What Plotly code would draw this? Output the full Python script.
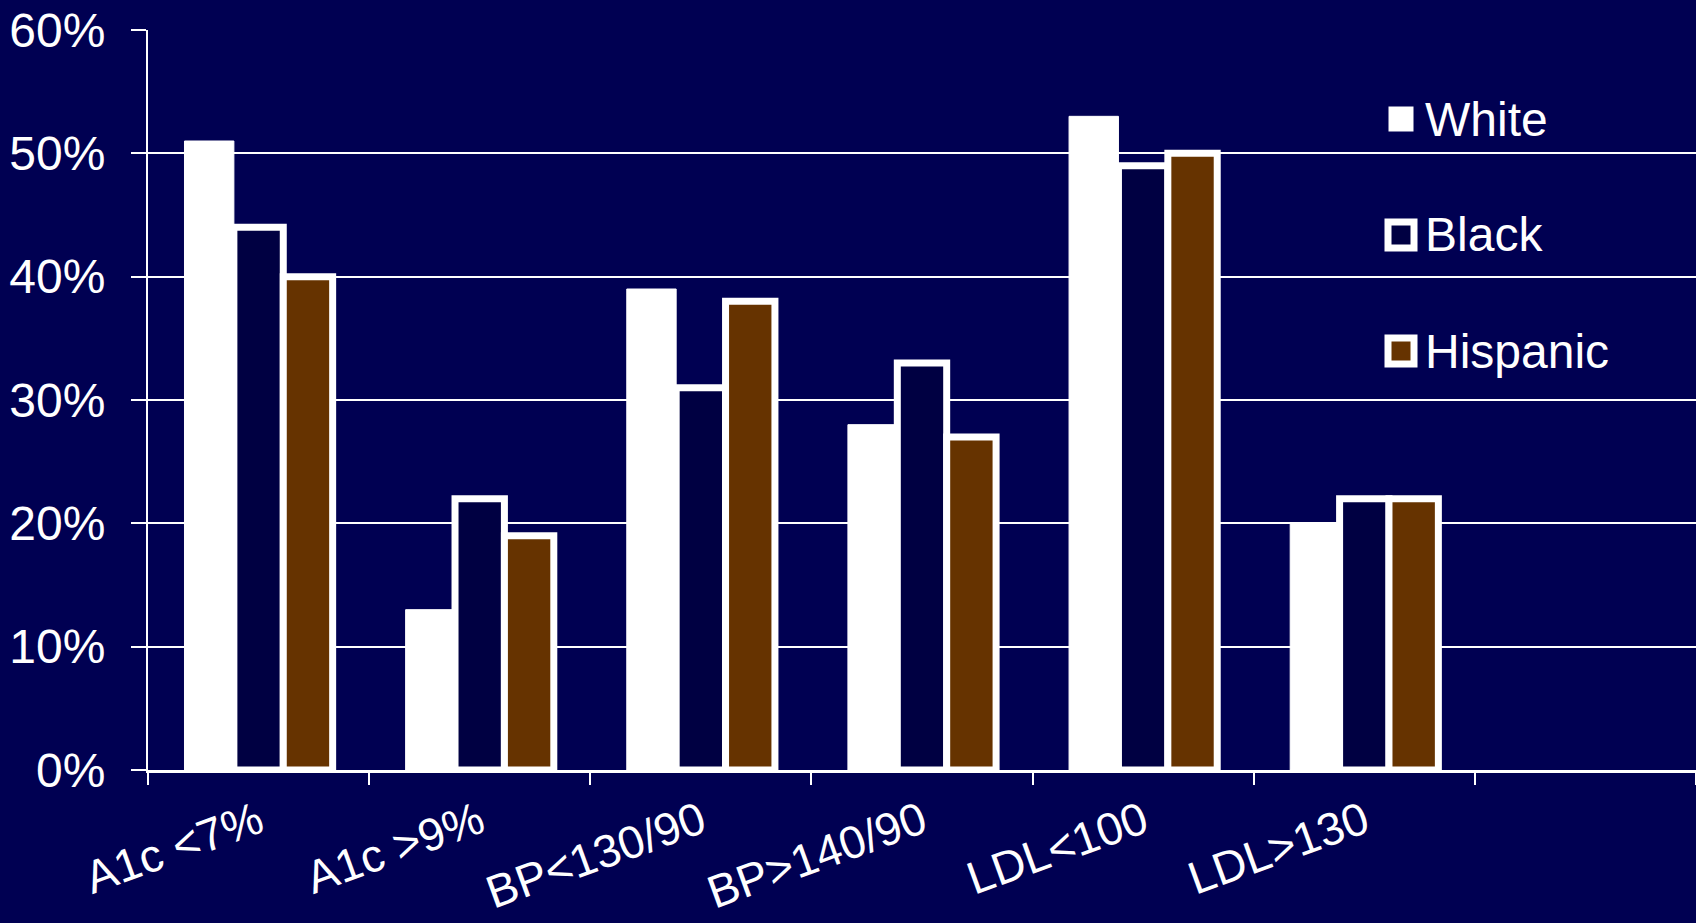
import plotly.graph_objects as go

# Categories and series values (percent of patients)
categories = ["A1c <7%", "A1c >9%", "BP<130/90", "BP>140/90", "LDL<100", "LDL>130"]
series_names = ["White", "Black", "Hispanic"]
white_vals = [51, 13, 39, 28, 53, 20]
black_vals = [44, 22, 31, 33, 49, 22]
hispanic_vals = [40, 19, 38, 27, 50, 22]
y_ticks = [0, 10, 20, 30, 40, 50, 60]
y_tick_labels = ["0%", "10%", "20%", "30%", "40%", "50%", "60%"]

BG = "#000052"
FILLS = ["#ffffff", "#000042", "#663300"]
FONT = "Liberation Sans, Arial, sans-serif"

W, H = 1696, 923
ML, MR, MT, MB = 148, 0, 30, 153

fig = go.Figure()
for name, vals, fill in zip(series_names, [white_vals, black_vals, hispanic_vals], FILLS):
    outlined = name != "White"
    fig.add_trace(go.Bar(
        x=categories, y=vals, name=name,
        marker=dict(color=fill,
                    line=dict(color="#ffffff", width=7 if outlined else 1)),
        showlegend=False,
    ))

# Hand-drawn legend: big squares with labels stacked at the right
def px_to_paper(px, py):
    return (px - ML) / (W - ML - MR), (H - MB - py) / (H - MT - MB)

legend_rows = [119, 235, 351]
for name, fill, cy in zip(series_names, FILLS, legend_rows):
    outlined = name != "White"
    half = 12.5 if not outlined else 13
    x0, y0 = px_to_paper(1401 - half, cy + half)
    x1, y1 = px_to_paper(1401 + half, cy - half)
    fig.add_shape(type="rect", xref="paper", yref="paper",
                  x0=x0, x1=x1, y0=y0, y1=y1,
                  fillcolor=fill,
                  line=dict(color="#ffffff", width=7 if outlined else 0))
    tx, ty = px_to_paper(1423, cy)
    fig.add_annotation(xref="paper", yref="paper", x=tx, y=ty,
                       text=name, showarrow=False,
                       xanchor="left", yanchor="middle",
                       font=dict(family=FONT, size=48, color="#ffffff"))

fig.update_layout(
    width=W, height=H,
    margin=dict(l=ML, r=MR, t=MT, b=MB),
    paper_bgcolor=BG, plot_bgcolor=BG,
    barmode="group", bargap=0.33, bargroupgap=0,
    font=dict(family=FONT, size=48, color="#ffffff"),
    xaxis=dict(
        type="category",
        categoryorder="array", categoryarray=categories + [" "],
        range=[-0.5, 6.5],
        showline=True, linecolor="#ffffff", linewidth=3,
        ticks="outside", ticklen=12, tickwidth=2, tickcolor="#ffffff",
        tickson="boundaries", tickangle=-20,
        ticklabelstandoff=4,
        showgrid=False, automargin=False,
        tickfont=dict(family=FONT, size=46, color="#ffffff"),
    ),
    yaxis=dict(
        range=[0, 60], tickmode="array", tickvals=y_ticks, ticktext=y_tick_labels,
        showgrid=True, gridcolor="#ffffff", gridwidth=2,
        zeroline=False,
        showline=True, linecolor="#ffffff", linewidth=2,
        ticks="outside", ticklen=15, tickwidth=2, tickcolor="#ffffff",
        ticklabelstandoff=16, automargin=False,
        tickfont=dict(family=FONT, size=48, color="#ffffff"),
    ),
)

fig.write_html("out.html")
